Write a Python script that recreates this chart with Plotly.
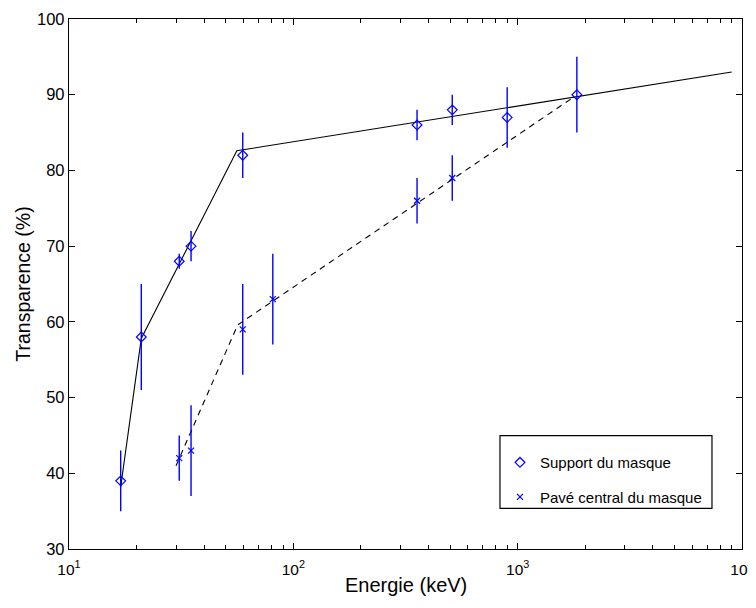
import plotly.graph_objects as go

# Measured points: support of the mask (diamonds)
support_energy = [17, 21, 31, 35, 59.5, 356, 511, 898, 1836]
support_transp = [39, 58, 68, 70, 82, 86, 88, 87, 90]
support_err = [4, 7, 1, 2, 3, 2, 2, 4, 5]

# Measured points: central block of the mask (crosses)
pave_energy = [31, 35, 59.5, 81, 356, 511]
pave_transp = [42, 43, 59, 63, 76, 79]
pave_err = [3, 6, 6, 6, 3, 3]

# Fit curves (broken lines)
fit_support_energy = [17, 21, 56, 9000]
fit_support_transp = [38.2, 57.8, 82.6, 93.0]
fit_pave_energy = [30, 56.5, 1800]
fit_pave_transp = [41.0, 59.6, 89.8]

x_tickvals = [10, 100, 1000, 10000]
x_ticktext = ["10<sup>1</sup>", "10<sup>2</sup>", "10<sup>3</sup>", "10<sup>4</sup>"]
x_minor = [m * d for d in (10, 100, 1000) for m in range(2, 10)]
y_tickvals = [30, 40, 50, 60, 70, 80, 90, 100]

BLUE = "#0000ff"
FONT = "Liberation Sans, Arial, Helvetica, sans-serif"

fig = go.Figure()

fig.add_trace(go.Scatter(
    x=fit_support_energy, y=fit_support_transp, mode="lines",
    line=dict(color="black", width=1.1), showlegend=False, hoverinfo="skip"))
fig.add_trace(go.Scatter(
    x=fit_pave_energy, y=fit_pave_transp, mode="lines",
    line=dict(color="black", width=1.1, dash="6px,5px"), showlegend=False, hoverinfo="skip"))

fig.add_trace(go.Scatter(
    x=support_energy, y=support_transp, mode="markers", name="Support du masque",
    legendgroup="a",
    marker=dict(symbol="diamond-open", size=7.5, color=BLUE, line=dict(color=BLUE, width=1.2)),
    error_y=dict(type="data", array=support_err, color=BLUE, thickness=1.4, width=0)))
fig.add_trace(go.Scatter(
    x=pave_energy, y=pave_transp, mode="markers", name="Pavé central du masque",
    legendgroup="b",
    marker=dict(symbol="x-thin-open", size=6, color=BLUE, line=dict(color=BLUE, width=1.2)),
    error_y=dict(type="data", array=pave_err, color=BLUE, thickness=1.4, width=0)))

axis_common = dict(
    showline=True, linecolor="black", linewidth=1.4, mirror="ticks",
    ticks="inside", tickcolor="black", showgrid=False, zeroline=False,
    automargin=False, ticklabeloverflow="allow",
)

fig.update_xaxes(
    type="log", range=[1, 4], tickmode="array", tickvals=x_tickvals, ticktext=x_ticktext,
    ticklen=6, tickwidth=1, ticklabelstandoff=6,
    tickfont=dict(family=FONT, size=15.5, color="black"),
    minor=dict(tickmode="array", tickvals=x_minor, ticks="inside", ticklen=3.5,
               tickcolor="black", tickwidth=1, showgrid=False),
    **axis_common)
fig.update_yaxes(
    range=[30, 100], tickmode="array", tickvals=y_tickvals,
    ticklen=6, tickwidth=1,
    tickfont=dict(family=FONT, size=16.5, color="black"),
    title=dict(text="Transparence (%)", font=dict(family=FONT, size=19.5, color="black"), standoff=1),
    **axis_common)

# x-axis title
fig.add_annotation(text="Energie (keV)", xref="paper", yref="paper", x=0.5, y=-0.068,
                   xanchor="center", yanchor="middle", showarrow=False,
                   font=dict(family=FONT, size=20, color="black"))

# legend frame (drawn as a paper-referenced rectangle)
fig.add_shape(type="rect", xref="paper", yref="paper",
              x0=0.6404, x1=0.9554, y0=0.0768, y1=0.2138,
              line=dict(color="black", width=1.2), fillcolor="white", layer="above")

# page body has an 8px default margin: figure sized so the plot sits where the reference has it
fig.update_layout(
    width=748, height=600,
    margin=dict(l=61, r=14, t=11, b=59),
    paper_bgcolor="white", plot_bgcolor="white",
    font=dict(family=FONT, color="black"),
    legend=dict(
        x=0.6404, y=0.2138, xanchor="left", yanchor="top",
        borderwidth=0, bgcolor="rgba(0,0,0,0)",
        font=dict(family=FONT, size=15, color="black"),
        tracegroupgap=12, traceorder="grouped",
        title=dict(text="\u00a0", font=dict(size=8)),
    ),
)

fig.write_html("out.html")
